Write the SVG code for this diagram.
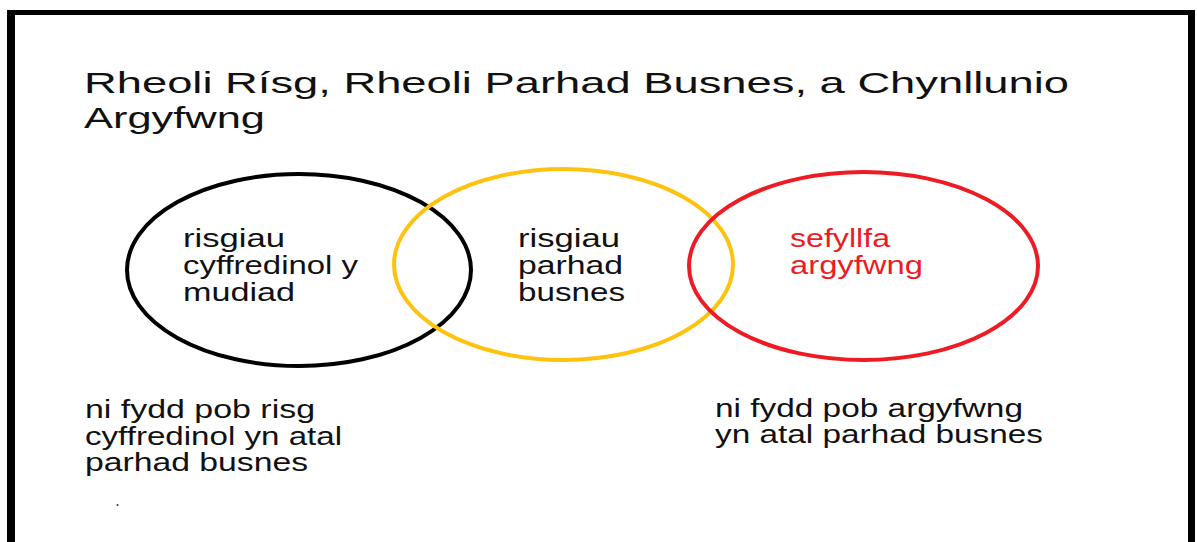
<svg xmlns="http://www.w3.org/2000/svg" width="1197" height="542" viewBox="0 0 1197 542">
<style>
.t{font-family:"Liberation Sans",Arial,sans-serif;fill:#111;}
.title{font-size:29px;}
.lbl{font-size:25px;}
.red{fill:#ed1c24;}
.ring{fill:none;stroke-width:4;}
</style>
<rect x="0" y="0" width="1197" height="542" fill="#fff"/>
<g id="frame" fill="#000">
<rect x="7" y="10" width="1188" height="5"/>
<rect x="7" y="10" width="8" height="532"/>
<rect x="1188" y="10" width="7" height="532"/>
</g>
<g id="title">
<text class="t title" x="84" y="93" textLength="985" lengthAdjust="spacingAndGlyphs">Rheoli Rísg, Rheoli Parhad Busnes, a Chynllunio</text>
<text class="t title" x="84" y="128" textLength="181" lengthAdjust="spacingAndGlyphs">Argyfwng</text>
</g>
<g id="node-general">
<ellipse class="ring" cx="299" cy="270" rx="172" ry="96" stroke="#000" stroke-width="4.5"/>
<text class="t lbl" x="183" y="247" textLength="102" lengthAdjust="spacingAndGlyphs">risgiau</text>
<text class="t lbl" x="183" y="274" textLength="175" lengthAdjust="spacingAndGlyphs">cyffredinol y</text>
<text class="t lbl" x="183" y="301" textLength="112" lengthAdjust="spacingAndGlyphs">mudiad</text>
</g>
<g id="node-continuity">
<ellipse class="ring" cx="563.5" cy="264.5" rx="169.5" ry="95.5" stroke="#ffc20e"/>
<text class="t lbl" x="518" y="247" textLength="102" lengthAdjust="spacingAndGlyphs">risgiau</text>
<text class="t lbl" x="518" y="274" textLength="105" lengthAdjust="spacingAndGlyphs">parhad</text>
<text class="t lbl" x="518" y="301" textLength="107" lengthAdjust="spacingAndGlyphs">busnes</text>
</g>
<g id="node-crisis">
<ellipse class="ring" cx="863.5" cy="266" rx="174.5" ry="94" stroke="#ed1c24"/>
<text class="t lbl red" x="790" y="247" textLength="100" lengthAdjust="spacingAndGlyphs">sefyllfa</text>
<text class="t lbl red" x="790" y="274" textLength="133" lengthAdjust="spacingAndGlyphs">argyfwng</text>
</g>
<g id="note-left">
<text class="t lbl" x="85" y="418" textLength="230" lengthAdjust="spacingAndGlyphs">ni fydd pob risg</text>
<text class="t lbl" x="85" y="445" textLength="257" lengthAdjust="spacingAndGlyphs">cyffredinol yn atal</text>
<text class="t lbl" x="85" y="471" textLength="223" lengthAdjust="spacingAndGlyphs">parhad busnes</text>
<circle cx="117.5" cy="505" r="1" fill="#333"/>
</g>
<g id="note-right">
<text class="t lbl" x="715" y="417" textLength="308" lengthAdjust="spacingAndGlyphs">ni fydd pob argyfwng</text>
<text class="t lbl" x="715" y="443" textLength="328" lengthAdjust="spacingAndGlyphs">yn atal parhad busnes</text>
</g>
<g id="connectors"></g>
</svg>
